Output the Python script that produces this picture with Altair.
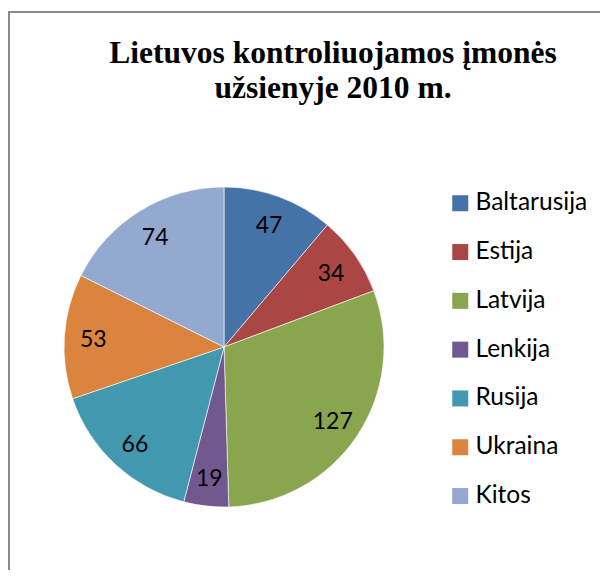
import altair as alt
import pandas as pd

countries = ["Baltarusija", "Estija", "Latvija", "Lenkija", "Rusija", "Ukraina", "Kitos"]
values = [47, 34, 127, 19, 66, 53, 74]
colors = ["#4572A7", "#AA4643", "#89A54E", "#71588F", "#4198AF", "#DB843D", "#93A9CF"]
title_lines = ["Lietuvos kontroliuojamos įmonės", "užsienyje 2010 m."]

df = pd.DataFrame({"country": countries, "value": values, "idx": list(range(len(countries)))})
frame_df = pd.DataFrame({"a": [0]})

W, H = 592, 562
CX, CY = 216, 339

base = alt.Chart(df).encode(
    theta=alt.Theta("value:Q", stack=True),
    order=alt.Order("idx:O"),
)

pie = base.mark_arc(outerRadius=160, stroke="#ffffff", strokeWidth=0.6).encode(
    x=alt.value(CX),
    y=alt.value(CY),
    color=alt.Color(
        "country:N",
        scale=alt.Scale(domain=countries, range=colors),
        legend=alt.Legend(
            title=None,
            orient="none",
            legendX=440,
            legendY=183,
            symbolType="square",
            symbolSize=256,
            symbolStrokeWidth=0,
            labelFont="Lato",
            labelFontSize=24.5,
            labelColor="#000000",
            labelOffset=3,
            rowPadding=23.8,
            labelLimit=300,
        ),
    ),
)

labels = base.mark_text(radius=131, dy=2, font="Lato", fontSize=23, color="#000000").encode(
    x=alt.value(CX),
    y=alt.value(CY),
    text=alt.Text("value:Q"),
)

border = alt.Chart(frame_df).mark_rect(fill=None, stroke="#8a8a8a", strokeWidth=2).encode(
    x=alt.value(1), x2=alt.value(W + 20), y=alt.value(4), y2=alt.value(H + 20)
)

chart = alt.layer(border, pie, labels).properties(
    width=W,
    height=H,
    padding=0,
    autosize=alt.AutoSizeParams(type="none"),
    title=alt.TitleParams(
        text=title_lines,
        font="Liberation Serif",
        fontSize=31.5,
        fontWeight="bold",
        color="#000000",
        anchor="middle",
        baseline="alphabetic",
        lineHeight=35,
        dx=29,
        dy=125,
    ),
).configure_view(stroke=None)

chart.save("out.html", embed_options={"renderer": "svg", "actions": False})
